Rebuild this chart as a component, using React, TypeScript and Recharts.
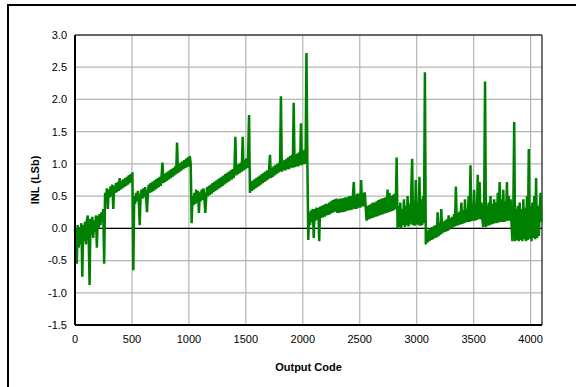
import { CartesianGrid, Label, Line, LineChart, ReferenceLine, XAxis, YAxis } from "recharts";

const inl = [
  0.0, -0.35, -0.55, 0.05, -0.3, 0.02, -0.25, 0.08, -0.75, 0.05, -0.2, 0.1, -0.25, 0.12, 0.2, -0.15,
  -0.88, 0.15, -0.1, 0.18, -0.15, 0.12, -0.05, 0.2, -0.3, 0.2, 0.0, 0.22, 0.05, 0.25, 0.1, 0.3,
  -0.55, 0.55, 0.45, 0.62, 0.3, 0.6, 0.48, 0.65, 0.5, 0.68, 0.3, 0.66, 0.55, 0.7, 0.56, 0.72,
  0.58, 0.78, 0.6, 0.74, 0.62, 0.76, 0.64, 0.78, 0.66, 0.8, 0.68, 0.82, 0.7, 0.84, 0.72, 0.87,
  -0.65, 0.5, 0.38, 0.55, 0.42, 0.58, 0.44, 0.05, 0.5, 0.6, 0.46, 0.62, 0.48, 0.64, 0.5, 0.25,
  0.55, 0.68, 0.55, 0.7, 0.56, 0.72, 0.58, 0.74, 0.6, 0.76, 0.62, 0.78, 0.64, 0.8, 0.66, 0.82,
  1.02, 0.7, 0.84, 0.72, 0.86, 0.74, 0.88, 0.76, 0.9, 0.78, 0.92, 0.8, 0.94, 0.82, 0.96, 0.84,
  1.33, 0.86, 1.0, 0.88, 1.02, 0.9, 1.04, 0.92, 1.06, 0.94, 1.08, 0.95, 1.1, 0.96, 1.12, 1.0,
  0.08, 0.5, 0.36, 0.55, 0.38, 0.6, 0.4, 0.58, 0.24, 0.56, 0.42, 0.6, 0.44, 0.62, 0.46, 0.24,
  0.48, 0.64, 0.5, 0.66, 0.52, 0.68, 0.54, 0.7, 0.56, 0.72, 0.58, 0.74, 0.6, 0.76, 0.62, 0.78,
  0.64, 0.8, 0.66, 0.82, 0.68, 0.84, 0.7, 0.86, 0.72, 0.88, 0.74, 0.9, 0.76, 0.92, 0.78, 0.94,
  1.42, 0.82, 0.98, 0.84, 1.0, 0.86, 1.02, 0.88, 1.42, 0.9, 1.06, 0.92, 1.08, 0.94, 1.12, 1.76,
  0.55, 0.72, 0.58, 0.74, 0.6, 0.76, 0.62, 0.78, 0.64, 0.8, 0.66, 0.82, 0.68, 0.84, 0.7, 0.86,
  0.72, 0.88, 0.74, 0.9, 0.76, 0.92, 1.14, 0.78, 0.94, 0.8, 0.96, 0.82, 0.98, 0.84, 1.0, 0.86,
  1.02, 0.88, 2.05, 0.88, 1.04, 0.9, 1.06, 0.9, 1.08, 0.92, 1.1, 0.92, 1.12, 0.94, 1.14, 0.94,
  1.95, 0.95, 1.15, 0.96, 1.16, 0.96, 1.18, 0.98, 1.63, 0.98, 1.2, 1.0, 1.22, 1.0, 2.72, 1.05,
  -0.18, 0.25, 0.05, 0.28, 0.1, 0.3, -0.15, 0.3, 0.12, 0.32, 0.14, 0.32, -0.2, 0.34, 0.16, 0.35,
  0.17, 0.36, 0.18, 0.38, 0.2, 0.38, 0.21, 0.4, 0.22, 0.42, 0.24, 0.44, 0.25, 0.45, 0.26, 0.46,
  0.24, 0.45, 0.24, 0.46, 0.25, 0.46, 0.25, 0.47, 0.26, 0.48, 0.27, 0.48, 0.28, 0.5, 0.28, 0.5,
  0.29, 0.52, 0.72, 0.3, 0.52, 0.3, 0.54, 0.32, 0.54, 0.32, 0.75, 0.34, 0.55, 0.34, 0.56, 0.34,
  0.12, 0.35, 0.14, 0.36, 0.15, 0.38, 0.16, 0.4, 0.17, 0.4, 0.18, 0.42, 0.19, 0.44, 0.2, 0.45,
  0.21, 0.46, 0.22, 0.47, 0.23, 0.48, 0.24, 0.6, 0.25, 0.55, 0.26, 0.5, 0.27, 0.52, 0.28, 0.54,
  0.3, 1.1, 0.0, 0.35, 0.02, 0.4, 0.0, 0.3, 0.05, 0.45, 0.02, 0.35, 0.05, 0.5, 0.03, 0.38,
  0.06, 0.55, 1.08, 0.05, 0.42, 0.04, 0.75, 0.06, 0.4, 0.05, 0.8, 0.04, 0.45, 0.05, 0.5, 0.08,
  2.42, -0.25, -0.05, -0.22, -0.02, -0.2, 0.0, -0.18, 0.02, -0.17, 0.04, -0.15, 0.05, -0.14, 0.25, -0.12,
  0.08, -0.1, 0.3, -0.08, 0.1, -0.06, 0.12, -0.05, 0.14, -0.04, 0.2, -0.02, 0.16, 0.0, 0.18, 0.02,
  0.22, 0.03, 0.65, 0.04, 0.24, 0.05, 0.26, 0.06, 0.4, 0.07, 0.28, 0.08, 0.45, 0.09, 0.3, 0.1,
  0.5, 0.1, 0.98, 0.11, 0.35, 0.12, 0.6, 0.12, 0.38, 0.13, 0.83, 0.14, 0.72, 0.14, 0.4, 0.15,
  0.02, 0.3, 2.28, 0.02, 0.35, 0.04, 0.4, 0.05, 0.5, 0.06, 0.38, 0.07, 0.45, 0.08, 0.4, 0.08,
  0.55, 0.09, 0.72, 0.1, 0.45, 0.1, 0.6, 0.1, 0.42, 0.11, 0.72, 0.12, 0.5, 0.12, 0.45, 0.1,
  -0.2, 0.25, 1.65, -0.2, 0.3, -0.18, 0.35, -0.2, 0.4, -0.18, 0.3, -0.2, 0.45, -0.17, 0.32, -0.2,
  0.5, -0.18, 1.23, -0.16, 0.35, -0.2, 0.4, -0.15, 0.5, -0.17, 0.78, -0.15, 0.35, -0.12, 0.3, 0.55,
  0.1,
];
const codes = inl.map((_, i) => Math.min(i * 8, 4095));

const xTicks = [0, 500, 1000, 1500, 2000, 2500, 3000, 3500, 4000];
const yTicks = [-1.5, -1.0, -0.5, 0.0, 0.5, 1.0, 1.5, 2.0, 2.5, 3.0];

const data = codes.map((code, i) => ({ code, inl: inl[i] }));

const font = "'Liberation Sans', Arial, sans-serif";

export default function App() {
  return (
    <div style={{ position: "fixed", left: 0, top: 0, width: 576, height: 387, overflow: "hidden", background: "#fff" }}>
      <div style={{ position: "absolute", left: 7, top: 4, width: 620, height: 420, border: "2px solid #000" }} />
      <div style={{ position: "absolute", left: 0, top: 0 }}>
        <LineChart width={576} height={387} data={data} margin={{ top: 35, right: 34, left: 0, bottom: 0 }}>
          <CartesianGrid stroke="#b4b4b4" strokeWidth={1.2} horizontalValues={yTicks} verticalValues={xTicks} />
          <XAxis
            dataKey="code"
            type="number"
            domain={[0, 4100]}
            ticks={xTicks}
            height={62}
            tickLine={false}
            tickMargin={4}
            axisLine={{ stroke: "#000", strokeWidth: 2 }}
            tick={{ fill: "#000", fontSize: 11, fontFamily: font }}
          >
            <Label value="Output Code" position="insideBottom" offset={16} style={{ fontSize: 11, fontWeight: "bold", fontFamily: font, fill: "#000" }} />
          </XAxis>
          <YAxis
            type="number"
            domain={[-1.5, 3.0]}
            ticks={yTicks}
            width={75}
            tickLine={false}
            tickFormatter={(v: number) => v.toFixed(1)}
            axisLine={{ stroke: "#000", strokeWidth: 2 }}
            tick={{ fill: "#000", fontSize: 11, fontFamily: font }}
          >
            <Label value="INL (LSb)" angle={-90} position="center" dx={-2} style={{ fontSize: 11, fontWeight: "bold", fontFamily: font, fill: "#000", textAnchor: "middle" }} />
          </YAxis>
          <ReferenceLine y={3.0} stroke="#404040" strokeWidth={1.5} />
          <ReferenceLine x={4100} stroke="#404040" strokeWidth={1.5} />
          <ReferenceLine y={0} stroke="#000" strokeWidth={1.2} />
          <Line type="linear" dataKey="inl" stroke="#008000" strokeWidth={2.5} dot={false} isAnimationActive={false} />
        </LineChart>
      </div>
    </div>
  );
}
